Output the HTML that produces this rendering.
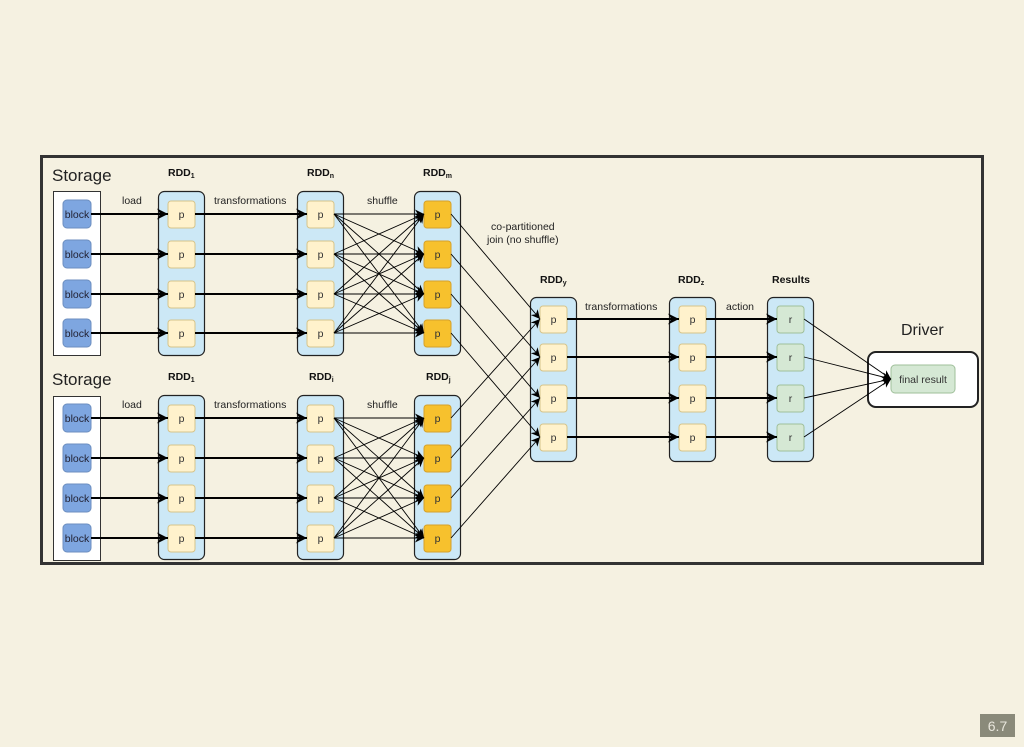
<!DOCTYPE html>
<html><head><meta charset="utf-8"><style>
html,body{margin:0;padding:0;background:#f5f1e1;}
svg{display:block}
text{font-family:"Liberation Sans",sans-serif;}
</style></head><body>
<svg width="1024" height="747" viewBox="0 0 1024 747" xmlns="http://www.w3.org/2000/svg">
<defs>
<marker id="A" viewBox="0 0 10 10" refX="10" refY="5" markerWidth="11" markerHeight="11" orient="auto" markerUnits="userSpaceOnUse"><path d="M0,0 L10,5 L0,10 L3,5 z" fill="#000"/></marker>
<marker id="s" viewBox="0 0 10 10" refX="10" refY="5" markerWidth="9" markerHeight="9" orient="auto" markerUnits="userSpaceOnUse"><path d="M0,0 L10,5 L0,10 L3,5 z" fill="#000"/></marker>
</defs>
<rect x="0" y="0" width="1024" height="747" fill="#f5f1e1"/>
<rect x="41.5" y="156.5" width="941" height="407" fill="#f5f1e1" stroke="#333" stroke-width="3"/>

<g font-size="17" fill="#222">
<text x="52" y="181">Storage</text>
<text x="52" y="385">Storage</text>
</g>
<g font-size="10.5" font-weight="bold" fill="#111">
<text x="168" y="176">RDD<tspan font-size="7" dy="2">1</tspan></text>
<text x="307" y="176">RDD<tspan font-size="7" dy="2">n</tspan></text>
<text x="423" y="176">RDD<tspan font-size="7" dy="2">m</tspan></text>
<text x="168" y="380">RDD<tspan font-size="7" dy="2">1</tspan></text>
<text x="309" y="380">RDD<tspan font-size="7" dy="2">i</tspan></text>
<text x="426" y="380">RDD<tspan font-size="7" dy="2">j</tspan></text>
<text x="540" y="283">RDD<tspan font-size="7" dy="2">y</tspan></text>
<text x="678" y="283">RDD<tspan font-size="7" dy="2">z</tspan></text>
<text x="772" y="283">Results</text>
</g>
<g font-size="10.5" fill="#222">
<text x="122" y="204">load</text>
<text x="214" y="204">transformations</text>
<text x="367" y="204">shuffle</text>
<text x="122" y="408">load</text>
<text x="214" y="408">transformations</text>
<text x="367" y="408">shuffle</text>
<text x="491" y="230">co-partitioned</text>
<text x="487" y="243">join (no shuffle)</text>
<text x="585" y="310">transformations</text>
<text x="726" y="310">action</text>
</g>
<text x="901" y="335" font-size="16" fill="#222">Driver</text>

<rect x="53.5" y="191.5" width="47" height="164" fill="#fff" stroke="#333"/>
<rect x="53.5" y="396.5" width="47" height="164" fill="#fff" stroke="#333"/>

<g fill="#cce8f6" stroke="#222" stroke-width="1.2">
<rect x="158.5" y="191.5" width="46" height="164" rx="6"/>
<rect x="297.5" y="191.5" width="46" height="164" rx="6"/>
<rect x="414.5" y="191.5" width="46" height="164" rx="6"/>
<rect x="158.5" y="395.5" width="46" height="164" rx="6"/>
<rect x="297.5" y="395.5" width="46" height="164" rx="6"/>
<rect x="414.5" y="395.5" width="46" height="164" rx="6"/>
<rect x="530.5" y="297.5" width="46" height="164" rx="6"/>
<rect x="669.5" y="297.5" width="46" height="164" rx="6"/>
<rect x="767.5" y="297.5" width="46" height="164" rx="6"/>
</g>
<rect x="868" y="352" width="110" height="55" rx="8" fill="#fff" stroke="#222" stroke-width="2"/>

<g fill="#7ea6e0" stroke="#6c8ebf">
<rect x="63" y="200" width="28" height="28" rx="4"/><rect x="63" y="240" width="28" height="28" rx="4"/><rect x="63" y="280" width="28" height="28" rx="4"/><rect x="63" y="319" width="28" height="28" rx="4"/>
<rect x="63" y="404" width="28" height="28" rx="4"/><rect x="63" y="444" width="28" height="28" rx="4"/><rect x="63" y="484" width="28" height="28" rx="4"/><rect x="63" y="524" width="28" height="28" rx="4"/>
</g>
<g font-size="10.5" fill="#223" text-anchor="middle">
<text x="77" y="218">block</text><text x="77" y="258">block</text><text x="77" y="298">block</text><text x="77" y="337">block</text>
<text x="77" y="422">block</text><text x="77" y="462">block</text><text x="77" y="502">block</text><text x="77" y="542">block</text>
</g>

<g fill="#fff2cc" stroke="#d6c48a">
<rect x="168" y="201" width="27" height="27" rx="3"/><rect x="168" y="241" width="27" height="27" rx="3"/><rect x="168" y="281" width="27" height="27" rx="3"/><rect x="168" y="320" width="27" height="27" rx="3"/>
<rect x="307" y="201" width="27" height="27" rx="3"/><rect x="307" y="241" width="27" height="27" rx="3"/><rect x="307" y="281" width="27" height="27" rx="3"/><rect x="307" y="320" width="27" height="27" rx="3"/>
<rect x="168" y="405" width="27" height="27" rx="3"/><rect x="168" y="445" width="27" height="27" rx="3"/><rect x="168" y="485" width="27" height="27" rx="3"/><rect x="168" y="525" width="27" height="27" rx="3"/>
<rect x="307" y="405" width="27" height="27" rx="3"/><rect x="307" y="445" width="27" height="27" rx="3"/><rect x="307" y="485" width="27" height="27" rx="3"/><rect x="307" y="525" width="27" height="27" rx="3"/>
<rect x="540" y="306" width="27" height="27" rx="3"/><rect x="540" y="344" width="27" height="27" rx="3"/><rect x="540" y="385" width="27" height="27" rx="3"/><rect x="540" y="424" width="27" height="27" rx="3"/>
<rect x="679" y="306" width="27" height="27" rx="3"/><rect x="679" y="344" width="27" height="27" rx="3"/><rect x="679" y="385" width="27" height="27" rx="3"/><rect x="679" y="424" width="27" height="27" rx="3"/>
</g>
<g fill="#f7c12d" stroke="#d6a12a">
<rect x="424" y="201" width="27" height="27" rx="3"/><rect x="424" y="241" width="27" height="27" rx="3"/><rect x="424" y="281" width="27" height="27" rx="3"/><rect x="424" y="320" width="27" height="27" rx="3"/>
<rect x="424" y="405" width="27" height="27" rx="3"/><rect x="424" y="445" width="27" height="27" rx="3"/><rect x="424" y="485" width="27" height="27" rx="3"/><rect x="424" y="525" width="27" height="27" rx="3"/>
</g>
<g fill="#d5e8d4" stroke="#9fbf9a">
<rect x="777" y="306" width="27" height="27" rx="3"/><rect x="777" y="344" width="27" height="27" rx="3"/><rect x="777" y="385" width="27" height="27" rx="3"/><rect x="777" y="424" width="27" height="27" rx="3"/>
<rect x="891" y="365" width="64" height="28" rx="4"/>
</g>
<g font-size="10.5" fill="#333" text-anchor="middle">
<text x="181.5" y="218">p</text><text x="181.5" y="258">p</text><text x="181.5" y="298">p</text><text x="181.5" y="337">p</text>
<text x="320.5" y="218">p</text><text x="320.5" y="258">p</text><text x="320.5" y="298">p</text><text x="320.5" y="337">p</text>
<text x="437.5" y="218">p</text><text x="437.5" y="258">p</text><text x="437.5" y="298">p</text><text x="437.5" y="337">p</text>
<text x="181.5" y="422">p</text><text x="181.5" y="462">p</text><text x="181.5" y="502">p</text><text x="181.5" y="542">p</text>
<text x="320.5" y="422">p</text><text x="320.5" y="462">p</text><text x="320.5" y="502">p</text><text x="320.5" y="542">p</text>
<text x="437.5" y="422">p</text><text x="437.5" y="462">p</text><text x="437.5" y="502">p</text><text x="437.5" y="542">p</text>
<text x="553.5" y="323">p</text><text x="553.5" y="361">p</text><text x="553.5" y="402">p</text><text x="553.5" y="441">p</text>
<text x="692.5" y="323">p</text><text x="692.5" y="361">p</text><text x="692.5" y="402">p</text><text x="692.5" y="441">p</text>
<text x="790.5" y="323">r</text><text x="790.5" y="361">r</text><text x="790.5" y="402">r</text><text x="790.5" y="441">r</text>
<text x="923" y="383">final result</text>
</g>

<g stroke="#000" stroke-width="2" marker-end="url(#A)">
<line x1="91" y1="214" x2="168" y2="214"/><line x1="91" y1="254" x2="168" y2="254"/><line x1="91" y1="294" x2="168" y2="294"/><line x1="91" y1="333" x2="168" y2="333"/>
<line x1="195" y1="214" x2="307" y2="214"/><line x1="195" y1="254" x2="307" y2="254"/><line x1="195" y1="294" x2="307" y2="294"/><line x1="195" y1="333" x2="307" y2="333"/>
<line x1="91" y1="418" x2="168" y2="418"/><line x1="91" y1="458" x2="168" y2="458"/><line x1="91" y1="498" x2="168" y2="498"/><line x1="91" y1="538" x2="168" y2="538"/>
<line x1="195" y1="418" x2="307" y2="418"/><line x1="195" y1="458" x2="307" y2="458"/><line x1="195" y1="498" x2="307" y2="498"/><line x1="195" y1="538" x2="307" y2="538"/>
<line x1="567" y1="319" x2="679" y2="319"/><line x1="567" y1="357" x2="679" y2="357"/><line x1="567" y1="398" x2="679" y2="398"/><line x1="567" y1="437" x2="679" y2="437"/>
<line x1="706" y1="319" x2="777" y2="319"/><line x1="706" y1="357" x2="777" y2="357"/><line x1="706" y1="398" x2="777" y2="398"/><line x1="706" y1="437" x2="777" y2="437"/>
</g>

<g stroke="#000" stroke-width="0.9" marker-end="url(#s)">
<line x1="334" y1="214" x2="424" y2="214"/><line x1="334" y1="214" x2="424" y2="254"/><line x1="334" y1="214" x2="424" y2="294"/><line x1="334" y1="214" x2="424" y2="333"/>
<line x1="334" y1="254" x2="424" y2="214"/><line x1="334" y1="254" x2="424" y2="254"/><line x1="334" y1="254" x2="424" y2="294"/><line x1="334" y1="254" x2="424" y2="333"/>
<line x1="334" y1="294" x2="424" y2="214"/><line x1="334" y1="294" x2="424" y2="254"/><line x1="334" y1="294" x2="424" y2="294"/><line x1="334" y1="294" x2="424" y2="333"/>
<line x1="334" y1="333" x2="424" y2="214"/><line x1="334" y1="333" x2="424" y2="254"/><line x1="334" y1="333" x2="424" y2="294"/><line x1="334" y1="333" x2="424" y2="333"/>
<line x1="334" y1="418" x2="424" y2="418"/><line x1="334" y1="418" x2="424" y2="458"/><line x1="334" y1="418" x2="424" y2="498"/><line x1="334" y1="418" x2="424" y2="538"/>
<line x1="334" y1="458" x2="424" y2="418"/><line x1="334" y1="458" x2="424" y2="458"/><line x1="334" y1="458" x2="424" y2="498"/><line x1="334" y1="458" x2="424" y2="538"/>
<line x1="334" y1="498" x2="424" y2="418"/><line x1="334" y1="498" x2="424" y2="458"/><line x1="334" y1="498" x2="424" y2="498"/><line x1="334" y1="498" x2="424" y2="538"/>
<line x1="334" y1="538" x2="424" y2="418"/><line x1="334" y1="538" x2="424" y2="458"/><line x1="334" y1="538" x2="424" y2="498"/><line x1="334" y1="538" x2="424" y2="538"/>
<line x1="451" y1="214" x2="540" y2="319"/><line x1="451" y1="254" x2="540" y2="357"/><line x1="451" y1="294" x2="540" y2="398"/><line x1="451" y1="333" x2="540" y2="437"/>
<line x1="451" y1="418" x2="540" y2="319"/><line x1="451" y1="458" x2="540" y2="357"/><line x1="451" y1="498" x2="540" y2="398"/><line x1="451" y1="538" x2="540" y2="437"/>
<line x1="804" y1="319" x2="891" y2="379"/><line x1="804" y1="357" x2="891" y2="379"/><line x1="804" y1="398" x2="891" y2="379"/><line x1="804" y1="437" x2="891" y2="379"/>
</g>

<rect x="980" y="714" width="35" height="23" fill="#8a8a7a"/>
<text x="997.5" y="731" font-size="14" fill="#e8e6dc" text-anchor="middle" font-family="Liberation Mono, monospace">6.7</text>
</svg>
</body></html>
